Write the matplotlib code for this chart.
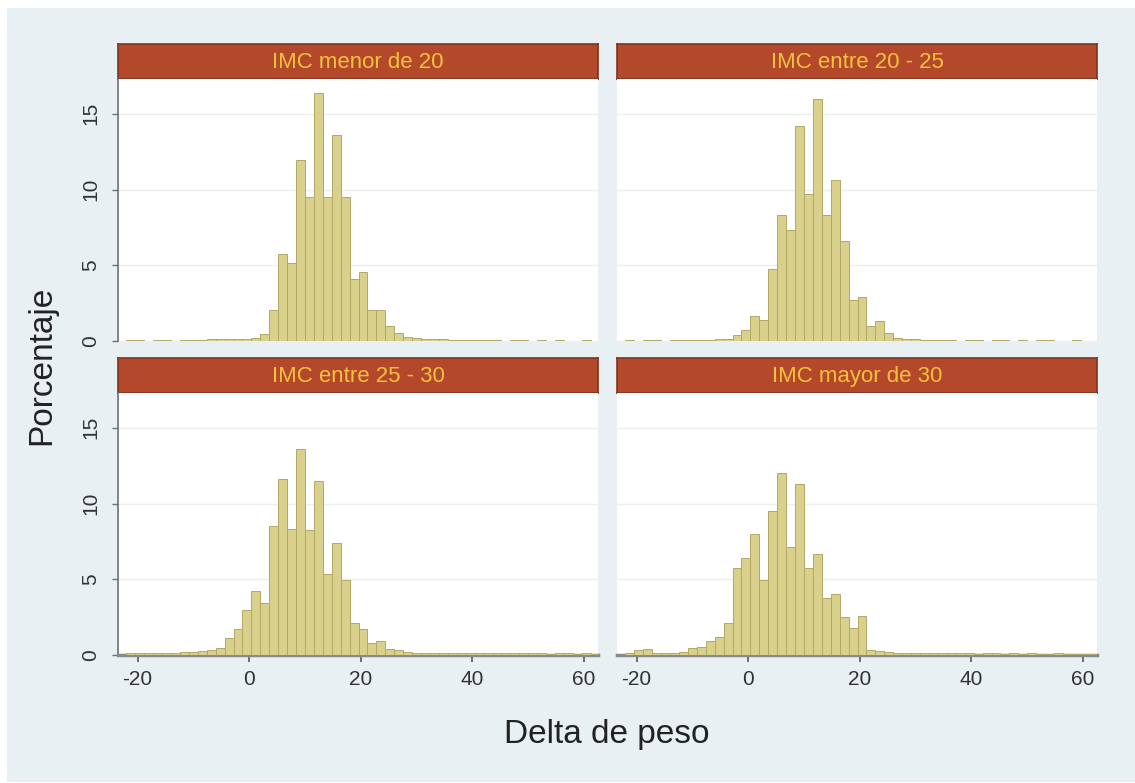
import matplotlib
matplotlib.use("Agg")
import matplotlib.pyplot as plt
from matplotlib.patches import Rectangle

plt.rcParams['font.family'] = ['Liberation Sans', 'DejaVu Sans']
plt.rcParams['axes.unicode_minus'] = False

W, H, DPI = 1135, 783, 100

# ---------------- data ----------------
bin_start = -22.0
bin_width = 1.6

panel_titles = ["IMC menor de 20", "IMC entre 20 - 25",
                "IMC entre 25 - 30", "IMC mayor de 30"]

pct_menor20 = [0.05, 0.05, 0.0, 0.05, 0.05, 0.0, 0.05, 0.05, 0.05, 0.1,
               0.1, 0.1, 0.15, 0.15, 0.2, 0.46, 2.04, 5.77, 5.15, 11.97,
               9.54, 16.4, 9.54, 13.6, 9.5, 4.12, 4.56, 2.04, 2.04, 1.0,
               0.5, 0.25, 0.2, 0.1, 0.15, 0.1, 0.05, 0.05, 0.05, 0.05,
               0.05, 0.05, 0.0, 0.05, 0.05, 0.0, 0.05, 0.0, 0.05, 0.0,
               0.0, 0.05, 0.0]
pct_20_25 = [0.05, 0.0, 0.05, 0.05, 0.0, 0.05, 0.05, 0.05, 0.05, 0.05,
             0.1, 0.15, 0.39, 0.72, 1.67, 1.38, 4.78, 8.29, 7.3, 14.2,
             9.7, 16.0, 8.29, 10.6, 6.58, 2.7, 2.92, 0.99, 1.32, 0.5,
             0.2, 0.15, 0.1, 0.05, 0.05, 0.05, 0.05, 0.0, 0.05, 0.05,
             0.0, 0.05, 0.05, 0.0, 0.05, 0.0, 0.05, 0.05, 0.0, 0.0,
             0.05, 0.0, 0.0]
pct_25_30 = [0.15, 0.15, 0.1, 0.15, 0.1, 0.15, 0.2, 0.2, 0.25, 0.3,
             0.45, 1.1, 1.72, 2.98, 4.24, 3.42, 8.54, 11.6, 8.34, 13.58,
             8.28, 11.52, 5.36, 7.4, 4.97, 2.14, 1.72, 0.77, 0.95, 0.4,
             0.3, 0.2, 0.15, 0.15, 0.1, 0.1, 0.15, 0.1, 0.1, 0.15,
             0.1, 0.1, 0.15, 0.1, 0.1, 0.1, 0.1, 0.05, 0.1, 0.1,
             0.05, 0.1, 0.05]
pct_mayor30 = [0.15, 0.35, 0.4, 0.15, 0.1, 0.15, 0.2, 0.45, 0.55, 0.94,
               1.2, 2.14, 5.74, 6.4, 8.0, 4.97, 9.54, 12.03, 7.1, 11.3,
               5.74, 6.69, 3.75, 4.0, 2.54, 1.77, 2.6, 0.3, 0.25, 0.2,
               0.15, 0.15, 0.1, 0.1, 0.15, 0.1, 0.1, 0.1, 0.1, 0.05,
               0.1, 0.1, 0.05, 0.1, 0.05, 0.1, 0.05, 0.05, 0.1, 0.05,
               0.05, 0.05, 0.05]

panel_values = [pct_menor20, pct_20_25, pct_25_30, pct_mayor30]

x_ticks = [-20, 0, 20, 40, 60]
x_ticklabels = ["-20", "0", "20", "40", "60"]
y_ticks = [0, 5, 10, 15]
y_ticklabels = ["0", "5", "10", "15"]

x_title = "Delta de peso"
y_title = "Porcentaje"

# ---------------- style ----------------
BG = "#e8f0f3"
STRIP = "#b4482a"
STRIP_EDGE = "#7c3420"
STRIP_TXT = "#f6c23e"
BAR = "#d9d08c"
BAR_EDGE = "#b3a866"
AXIS = "#707070"
GRID = "#eceff0"

fig = plt.figure(figsize=(W / DPI, H / DPI), dpi=DPI, facecolor="white")
fig.patches.append(Rectangle((7 / W, 1 - 782 / H), (W - 7) / W, (782 - 8) / H,
                             transform=fig.transFigure, facecolor=BG,
                             edgecolor="none", zorder=-10))


def rect(x0, y0, x1, y1):
    return [x0 / W, 1 - y1 / H, (x1 - x0) / W, (y1 - y0) / H]


cols = [(118, 598), (617, 1097)]
rows = [(44, 79, 341), (358, 393, 655)]  # strip top, plot top, plot bottom

edges = [bin_start + bin_width * k for k in range(len(pct_menor20))]

for i, (title, vals) in enumerate(zip(panel_titles, panel_values)):
    r, c = divmod(i, 2)
    x0, x1 = cols[c]
    s0, p0, p1 = rows[r]

    # strip
    sax = fig.add_axes(rect(x0, s0, x1, p0))
    sax.set_facecolor(STRIP)
    for sp in sax.spines.values():
        sp.set_color(STRIP_EDGE)
        sp.set_linewidth(1.2)
    sax.set_xticks([])
    sax.set_yticks([])
    sax.text(0.5, 0.47, title, transform=sax.transAxes, ha="center",
             va="center", color=STRIP_TXT, fontsize=16)

    # plot
    ax = fig.add_axes(rect(x0, p0, x1, p1))
    ax.set_facecolor("white")
    ax.bar(edges, vals, width=bin_width, align="edge", color=BAR,
           edgecolor=BAR_EDGE, linewidth=0.7, zorder=3)
    ax.set_xlim(-23.5, 62.5)
    ax.set_ylim(0, 17.3)
    ax.set_yticks(y_ticks)
    ax.yaxis.grid(True, color=GRID, linewidth=1.0, zorder=0)
    ax.set_axisbelow(True)
    for sp in ax.spines.values():
        sp.set_visible(False)

    if c == 0:
        ax.spines["left"].set_visible(True)
        ax.spines["left"].set_color(AXIS)
        ax.spines["left"].set_linewidth(1.2)
        ax.set_yticklabels(y_ticklabels, rotation=90, va="center",
                           fontsize=15, color="#333333")
        ax.tick_params(axis="y", length=4, width=1, color=AXIS, pad=9)
    else:
        ax.tick_params(axis="y", length=0, labelleft=False)

    if r == 1:
        ax.spines["bottom"].set_visible(True)
        ax.spines["bottom"].set_color("#8a8a8a")
        ax.spines["bottom"].set_linewidth(2.5)
        ax.set_xticks(x_ticks)
        ax.set_xticklabels(x_ticklabels, fontsize=15, color="#333333")
        ax.tick_params(axis="x", length=5, width=1.2, color="#555555", pad=6)
    else:
        ax.set_xticks([])

fig.text(607 / W, 1 - 735 / H, x_title, ha="center", va="center",
         fontsize=24, color="#222222")
fig.text(42 / W, 1 - 365 / H, y_title, ha="center", va="center",
         rotation=90, fontsize=24, color="#222222")

fig.savefig("out.png", dpi=DPI, facecolor=fig.get_facecolor())
